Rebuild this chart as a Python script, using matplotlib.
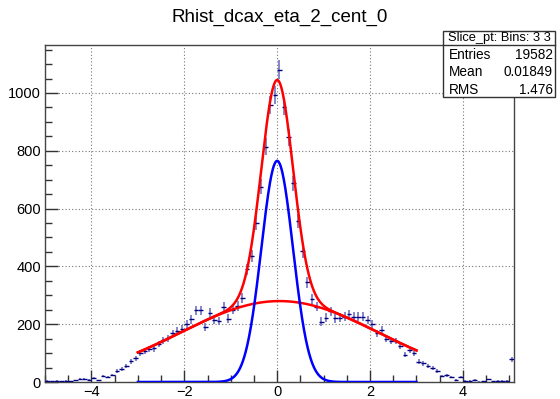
import numpy as np
import matplotlib
matplotlib.use("Agg")
import matplotlib.pyplot as plt
from matplotlib.patches import Rectangle
from matplotlib.lines import Line2D
from matplotlib.ticker import MultipleLocator

plt.rcParams['font.family'] = ['Liberation Sans', 'DejaVu Sans']

# histogram: 101 bins of width 0.1 from -5.0 to 5.1
bin_lo, bin_hi, n_bins = -5.0, 5.1, 101
counts = [
    4, 3, 4, 3, 5, 2, 6, 10, 10, 7,                      # -4.95 .. -4.05
    15, 6, 21, 17, 24, 38, 46, 56, 72, 82,               # -3.95 .. -3.05
    100, 108, 115, 116, 132, 145, 151, 168, 176, 185,    # -2.95 .. -2.05
    199, 217, 248, 248, 192, 239, 216, 210, 259, 219,    # -1.95 .. -1.05
    250, 263, 290, 390, 435, 550, 676, 814, 958, 993,    # -0.95 .. -0.05
    1080, 953, 847, 687, 558, 452, 345, 288, 261, 209,   #  0.05 ..  0.95
    223, 245, 220, 223, 226, 234, 226, 226, 226, 214,    #  1.05 ..  1.95
    200, 168, 180, 150, 142, 142, 126, 95, 110, 99,      #  2.05 ..  2.95
    70, 65, 55, 50, 39, 21, 23, 17, 7, 18,               #  3.05 ..  3.95
    5, 5, 7, 1, 3, 9, 3, 5, 5, 5,                        #  4.05 ..  4.95
    78,                                                  #  5.05
]

# fit components (gaus narrow + gaus broad), fit range -3..3
fit_range = (-3.0, 3.0)
narrow = dict(amp=765.0, mean=0.0, sigma=0.34)
broad = dict(amp=280.0, mean=0.05, sigma=2.15)

title = "Rhist_dcax_eta_2_cent_0"
stats_header = "Slice_pt: Bins: 3 3"
stats_rows = [("Entries", "19582"), ("Mean", "0.01849"), ("RMS", "1.476")]


def gaus(x, p):
    return p['amp'] * np.exp(-0.5 * ((x - p['mean']) / p['sigma']) ** 2)


W, H = 560, 399
fig = plt.figure(figsize=(W / 100, H / 100), dpi=100)
ax = fig.add_axes([45 / W, 1 - 382 / H, (514 - 45) / W, (382 - 45) / H])

edges = np.linspace(bin_lo, bin_hi, n_bins + 1)
centers = 0.5 * (edges[:-1] + edges[1:])
y = np.array(counts, dtype=float)
half = 0.5 * (edges[1] - edges[0])

ax.errorbar(centers, y, yerr=np.sqrt(y), fmt='none', ecolor='#7c7cc8',
            elinewidth=1.3, capsize=0, zorder=3)
ax.errorbar(centers, y, xerr=half, fmt='none', ecolor='#000080',
            elinewidth=1.0, capsize=0, zorder=4)

xf = np.linspace(fit_range[0], fit_range[1], 600)
ax.plot(xf, gaus(xf, broad), color='#ff0000', lw=1.8, zorder=5)
ax.plot(xf, gaus(xf, narrow), color='#0000ff', lw=1.8, zorder=5)
ax.plot(xf, gaus(xf, narrow) + gaus(xf, broad), color='#ff0000', lw=1.8, zorder=6)

ax.set_xlim(bin_lo, bin_hi)
ax.set_ylim(0, 1166)
ax.xaxis.set_major_locator(MultipleLocator(2))
ax.xaxis.set_minor_locator(MultipleLocator(0.5))
ax.yaxis.set_major_locator(MultipleLocator(200))
ax.yaxis.set_minor_locator(MultipleLocator(50))
ax.tick_params(which='both', direction='in', top=False, right=False,
               color='#333333', labelsize=10.5)
ax.tick_params(which='major', length=9, width=1)
ax.tick_params(which='minor', length=5, width=1)
ax.tick_params(axis='x', pad=2)
ax.tick_params(axis='y', pad=3)
ax.grid(True, which='major', linestyle=(0, (1, 2)), color='#777777', linewidth=0.8)
for s in ax.spines.values():
    s.set_color('#444444')
    s.set_linewidth(1.0)

fig.text(0.5, 1 - 17 / H, title, ha='center', va='center', fontsize=13.5)

# stats box
bx0, bx1, by0, by1, bsep = 443, 555, 31, 97, 45
fig.patches.append(Rectangle((bx0 / W, 1 - by1 / H), (bx1 - bx0) / W, (by1 - by0) / H,
                             transform=fig.transFigure, facecolor='white',
                             edgecolor='#333333', lw=1.0, zorder=10))
fig.add_artist(Line2D([bx0 / W, bx1 / W], [1 - bsep / H, 1 - bsep / H],
                      transform=fig.transFigure, color='#333333', lw=1.0, zorder=11))
fig.text((bx0 + bx1) / 2 / W, 1 - 38 / H, stats_header, ha='center', va='center',
         fontsize=9.3, zorder=12)
for i, (k, v) in enumerate(stats_rows):
    yy = 1 - (55 + i * 17.5) / H
    fig.text((bx0 + 6) / W, yy, k, ha='left', va='center', fontsize=9.8, zorder=12)
    fig.text((bx1 - 2) / W, yy, v, ha='right', va='center', fontsize=9.8, zorder=12)

fig.savefig("out.png", dpi=100)
